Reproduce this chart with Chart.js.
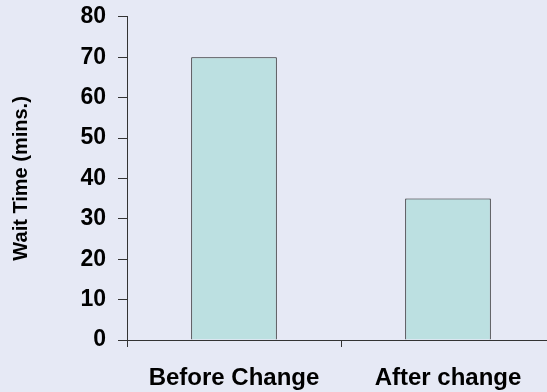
<!DOCTYPE html>
<html>
<head>
<meta charset="utf-8">
<script src="https://cdn.jsdelivr.net/npm/chart.js@4"></script>
<style>
  html, body { margin: 0; padding: 0; background: #e6e9f5; overflow: hidden; }
  #wrap { width: 555px; height: 392px; overflow: hidden; }
  #chart { display: block; margin-top: -9px; }
</style>
</head>
<body>
<div id="wrap"><canvas id="chart" width="555" height="401"></canvas></div>
<script>
const categories = ["Before Change", "After change"];
const waitTimes = [70, 35];
const yTicks = [0, 10, 20, 30, 40, 50, 60, 70, 80];

const ctx = document.querySelector("#chart").getContext('2d');
const fontFamily = "'Liberation Sans', Arial, sans-serif";
const tickFont = { family: fontFamily, size: 23, weight: 'bold' };

new Chart(ctx, {
    type: 'bar',
    data: {
        labels: categories,
        datasets: [{
            data: waitTimes,
            backgroundColor: '#bce0e1',
            borderColor: '#1a1a1a',
            borderWidth: 1,
            barPercentage: 0.4,
            categoryPercentage: 1
        }]
    },
    options: {
        responsive: false,
        animation: false,
        layout: { padding: { top: 2, right: 0, bottom: 0, left: 0 } },
        plugins: { legend: { display: false }, tooltip: { enabled: false } },
        scales: {
            x: {
                offset: true,
                grid: { display: true, drawOnChartArea: false, offset: true, tickLength: 7, color: '#333' },
                border: { color: '#333', width: 1 },
                ticks: { color: '#000', font: { family: fontFamily, size: 24, weight: 'bold' }, padding: 17 },
                afterFit: s => { s.height = 52; }
            },
            y: {
                min: 0,
                max: 80,
                afterBuildTicks: s => { s.ticks = yTicks.map(v => ({ value: v })); },
                grid: { display: true, drawOnChartArea: false, tickLength: 9, color: '#333' },
                border: { color: '#333', width: 1 },
                ticks: { color: '#000', font: tickFont, padding: 12 },
                title: {
                    display: true,
                    text: 'Wait Time (mins.)',
                    color: '#000',
                    font: { family: fontFamily, size: 20, weight: 'bold' },
                    padding: { top: 9, bottom: 0 }
                },
                afterFit: s => { s.width = 127; }
            }
        }
    }
});
</script>
</body>
</html>
